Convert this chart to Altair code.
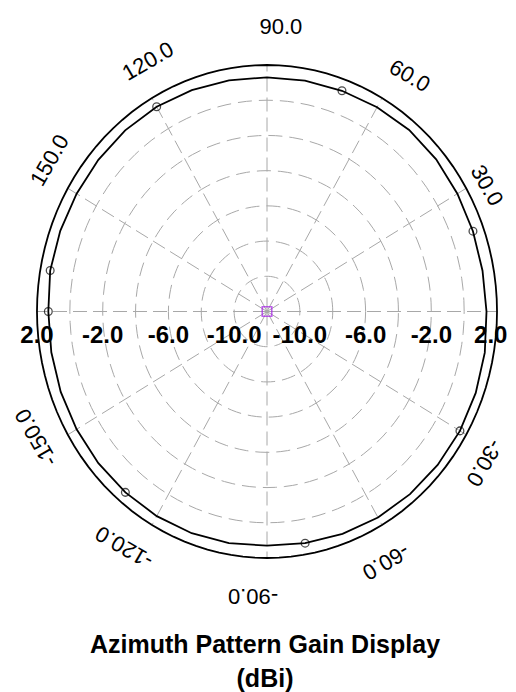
import altair as alt
import pandas as pd

# ---------------- data ----------------
pattern_angle = list(range(-180, 181, 10))
pattern_gain = [1.31, 1.33, 1.36, 1.38, 1.40, 1.41, 1.42, 1.40, 1.36, 1.30,
                1.36, 1.44, 1.51, 1.54, 1.56, 1.56, 1.52, 1.46, 1.36, 1.32,
                1.34, 1.38, 1.44, 1.46, 1.40, 1.34, 1.31, 1.30, 1.33, 1.38,
                1.43, 1.43, 1.40, 1.38, 1.39, 1.40, 1.31]
marker_angles = [-180, -130, -80, -30, 20, 70, 120, 170]
ring_values = [-10, -8, -6, -4, -2, 0]
outer_value = [2]
radial_label_values = [2, -2, -6, -10]
radial_label_text = ["2.0", "-2.0", "-6.0", "-10.0"]
angle_label_values = [-150, -120, -90, -60, -30, 30, 60, 90, 120, 150]
angle_label_text = ["-150.0", "-120.0", "-90.0", "-60.0", "-30.0",
                    "30.0", "60.0", "90.0", "120.0", "150.0"]
spoke_angles = list(range(0, 360, 30))
center_value = [-12]
R_MIN = -12.0

# ---------------- layout constants ----------------
W, H = 500, 620
CX, CY = 259.0, 303.5      # centre of the polar area (view pixels)
KX, KY = 16.43, 17.607     # pixels per dB, horizontal / vertical
FONT = "Liberation Sans"
XMAX = (W - CX) / KX       # right edge of the view in data units

xs = alt.Scale(domain=[-CX / KX, XMAX], nice=False, zero=False)
ys = alt.Scale(domain=[-(H - CY) / KY, CY / KY], nice=False, zero=False)
X = alt.X("px:Q", scale=xs, axis=None)
Y = alt.Y("py:Q", scale=ys, axis=None)

sample_t = list(range(0, 361, 3))  # drawing resolution for circles

ring_df = pd.DataFrame([(v, t) for v in ring_values for t in sample_t], columns=["value", "t"])
outer_df = pd.DataFrame([(v, t) for v in outer_value for t in sample_t], columns=["value", "t"])
pat_df = pd.DataFrame({"angle": pattern_angle, "gain": pattern_gain})
spoke_df = pd.DataFrame({"a": spoke_angles})
rl_df = pd.DataFrame([(v, s, txt) for v, txt in zip(radial_label_values, radial_label_text) for s in (-1, 1)],
                     columns=["v", "side", "lab"])
al_df = pd.DataFrame({"a": angle_label_values, "lab": angle_label_text})
c_df = pd.DataFrame({"v": center_value})


def circ(chart):
    return chart.transform_calculate(
        r=f"datum.value - ({R_MIN})",
        px="datum.r*cos(datum.t*PI/180)",
        py="datum.r*sin(datum.t*PI/180)",
    )


rings = circ(alt.Chart(ring_df)).mark_line(
    color="#a8a8a8", strokeWidth=1, strokeDash=[14, 7]
).encode(x=X, y=Y, detail="value:N", order="t:Q")

spokes = alt.Chart(spoke_df).transform_calculate(
    px="0",
    py="0",
    px2=f"({outer_value[0]} - ({R_MIN}))*cos(datum.a*PI/180)",
    py2=f"({outer_value[0]} - ({R_MIN}))*sin(datum.a*PI/180)",
).mark_rule(color="#a8a8a8", strokeWidth=1, strokeDash=[14, 6]).encode(
    x=X, y=Y, x2="px2:Q", y2="py2:Q"
)

outer = circ(alt.Chart(outer_df)).mark_line(
    color="black", strokeWidth=1.8
).encode(x=X, y=Y, detail="value:N", order="t:Q")

pat = alt.Chart(pat_df).transform_calculate(
    r=f"datum.gain - ({R_MIN})",
    px="datum.r*cos(datum.angle*PI/180)",
    py="datum.r*sin(datum.angle*PI/180)",
)
pattern_line = pat.mark_line(color="black", strokeWidth=1.8).encode(x=X, y=Y, order="angle:Q")
markers = pat.transform_filter(
    alt.FieldOneOfPredicate(field="angle", oneOf=marker_angles)
).mark_point(shape="circle", filled=False, size=60, color="black", strokeWidth=1.3).encode(x=X, y=Y)

center = alt.Chart(c_df).transform_calculate(
    r=f"datum.v - ({R_MIN})", px="datum.r", py="datum.r"
).mark_square(filled=False, size=90, color="#a41ee6", strokeWidth=1.6).encode(x=X, y=Y)

# radial (dB) labels; keep the rightmost one inside the page
radial_labels = alt.Chart(rl_df).transform_calculate(
    px0=f"datum.side*(datum.v - ({R_MIN}))",
    px=f"min(datum.px0, {XMAX - 1.05})",
    py="0",
).mark_text(font=FONT, fontSize=24, fontWeight="bold", color="black",
            baseline="middle", align="center", dy=24).encode(x=X, y=Y, text="lab:N")

angle_labels = alt.Chart(al_df).transform_calculate(
    rl="15.75 + 0.45*pow(sin(datum.a*PI/180), 6)",
    ta="(datum.a - 3)*PI/180",
    px0="datum.rl*cos(datum.ta)",
    px=f"min(datum.px0, {XMAX - 1.3})",
    py="datum.rl*sin(datum.ta)",
    rot="(450 - datum.a) % 360",
).mark_text(font=FONT, fontSize=22, color="black", baseline="middle", align="center").encode(
    x=X, y=Y, text="lab:N", angle=alt.Angle("rot:Q", scale=None)
)

chart = alt.layer(
    rings, spokes, outer, pattern_line, markers, center, radial_labels, angle_labels
).properties(
    width=W,
    height=H,
    autosize="none",
    padding={"left": 0, "top": 0, "right": 0, "bottom": 64},
    background="white",
    title=alt.TitleParams(
        text=["Azimuth Pattern Gain Display", "(dBi)"],
        orient="bottom", anchor="middle", frame="group", offset=5, dx=7,
        font=FONT, fontSize=25, fontWeight="bold", color="black", lineHeight=34,
    ),
).configure_view(stroke=None)

chart.save("out.html", embed_options={"renderer": "svg", "actions": False})
